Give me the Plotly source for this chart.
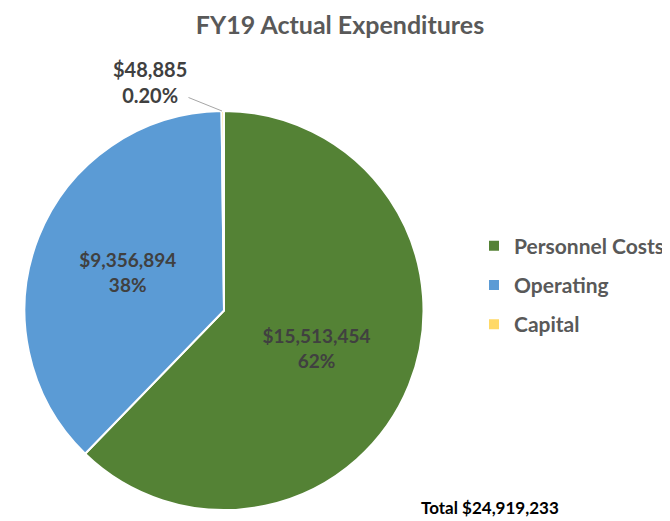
import plotly.graph_objects as go

labels = ["Personnel Costs", "Operating", "Capital"]
values = [15513454, 9356894, 48885]
pct_labels = ["62%", "38%", "0.20%"]
colors = ["#548235", "#5B9BD5", "#FFD966"]
total = 24919233

# the page puts the plot 8px in from the top-left, so positions are set
# in figure pixels = screenshot pixels - 8
W, H = 670, 521

slice_text = [f"${v:,}<br>{p}" for v, p in zip(values, pct_labels)]

fig = go.Figure()

fig.add_trace(go.Pie(
    labels=labels,
    values=values,
    text=slice_text,
    textinfo="text",
    textposition=["inside", "inside", "none"],
    insidetextorientation="horizontal",
    sort=False,
    direction="clockwise",
    rotation=0,
    marker=dict(colors=colors, line=dict(color="white", width=2)),
    textfont=dict(family="Lato", size=19, color="#404040", weight="bold"),
    domain=dict(x=[16 / W, 416 / W], y=[1 - 502 / H, 1 - 103 / H]),
    hoverinfo="label+value+percent",
    showlegend=False,
))

# legend entries, one group each so the rows can be spaced out
for name, color in zip(labels, colors):
    fig.add_trace(go.Scatter(
        x=[None], y=[None], mode="markers", name=name,
        legendgroup=name,
        marker=dict(symbol="square", size=10, color=color),
    ))

fig.update_layout(
    width=W,
    height=H,
    margin=dict(l=0, r=0, t=0, b=0),
    paper_bgcolor="white",
    plot_bgcolor="white",
    font=dict(family="Lato", color="#404040"),
    xaxis=dict(visible=False),
    yaxis=dict(visible=False),
    title=dict(
        text="FY19 Actual Expenditures",
        x=332 / W, xanchor="center",
        y=1 - 17 / H, yanchor="middle",
        font=dict(family="Lato", size=25, color="#595959", weight="bold"),
    ),
    legend=dict(
        x=466 / W, xanchor="left",
        y=1 - 277 / H, yanchor="middle",
        font=dict(family="Lato", size=21, color="#595959", weight="bold"),
        itemwidth=30,
        tracegroupgap=9,
    ),
    annotations=[
        dict(
            text=f"${values[2]:,}<br>{pct_labels[2]}",
            x=214 / W, y=1 - 103 / H, xref="paper", yref="paper",
            ax=-72, ay=-29, showarrow=True, arrowhead=0,
            arrowcolor="#A6A6A6", arrowwidth=1,
            font=dict(family="Lato", size=20, color="#404040", weight="bold"),
            xanchor="center", yanchor="middle",
        ),
        dict(
            text=f"Total ${total:,}",
            x=482 / W, y=1 - 499 / H, xref="paper", yref="paper",
            showarrow=False, xanchor="center", yanchor="middle",
            font=dict(family="Lato", size=17, color="#000000", weight="bold"),
        ),
    ],
)

fig.write_html("out.html")
